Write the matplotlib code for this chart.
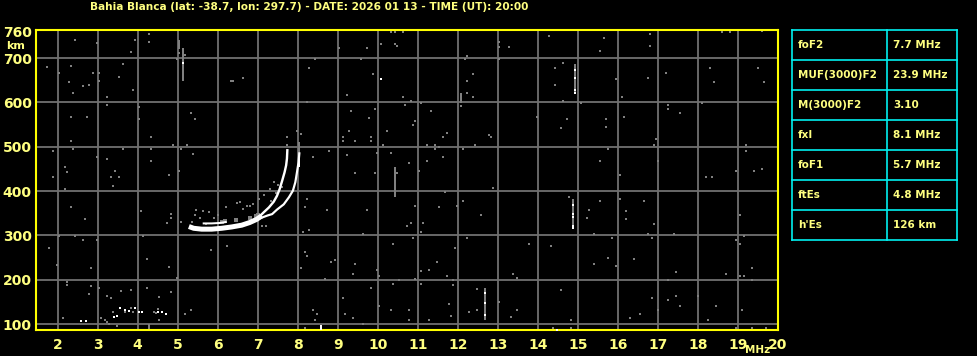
import matplotlib
matplotlib.use("Agg")
import matplotlib.pyplot as plt

# --- header / table text ---
title = "Bahia Blanca (lat: -38.7, lon: 297.7) - DATE: 2026 01 13 - TIME (UT): 20:00"
param_names = ["foF2", "MUF(3000)F2", "M(3000)F2", "fxI", "foF1", "ftEs", "h'Es"]
param_values = ["7.7 MHz", "23.9 MHz", "3.10", "8.1 MHz", "5.7 MHz", "4.8 MHz", "126 km"]

x_ticks = list(range(2, 21))
y_grid = [100, 200, 300, 400, 500, 600, 700]
y_ticks = [100, 200, 300, 400, 500, 600, 700, 760]

# --- F-layer trace (freq MHz, virtual height km) ---
band_f = [5.28, 5.40, 5.60, 5.85, 6.10, 6.35, 6.60, 6.80, 6.97, 7.10]
band_h = [320, 316, 314, 314, 316, 319, 323, 329, 336, 344]
upper_f = [5.65, 5.85, 6.05, 6.20]
upper_h = [327, 327, 328, 330]
o_f = [6.97, 7.15, 7.28, 7.40, 7.48, 7.55, 7.61, 7.67, 7.71, 7.73, 7.74]
o_h = [336, 352, 363, 376, 389, 405, 423, 442, 458, 473, 492]
x_f = [6.90, 7.10, 7.25, 7.36, 7.48, 7.65, 7.78, 7.88, 7.94, 7.98, 8.02, 8.04]
x_h = [333, 340, 345, 348, 358, 370, 386, 401, 420, 442, 465, 485]

# grey echoes around the trace
trace_grey_f = [5.72, 5.47, 5.63, 5.78, 5.43, 5.55, 6.20, 6.48, 6.55, 6.72, 6.88, 7.03,
                7.15, 7.30, 7.40, 7.51, 5.09, 7.10, 7.20, 6.62, 6.80, 7.73, 7.73, 8.03,
                8.08, 7.99, 5.35, 5.90, 6.00, 7.33, 7.45, 7.60]
trace_grey_h = [326, 358, 356, 352, 346, 339, 365, 373, 375, 367, 371, 381,
                390, 405, 420, 413, 330, 322, 322, 360, 366, 522, 504, 507,
                528, 536, 330, 340, 347, 378, 395, 410]
block_f = [6.45, 6.80, 7.01, 6.18, 6.10, 6.95]
block_h = [335, 340, 347, 333, 330, 343]

# --- noise speckles (grey) ---
grey_f = [3.19, 2.44, 2.98, 3.94, 4.29, 4.29, 3.84, 5.03, 5.18, 4.99, 1.74, 2.34, 2.03, 2.89,
          3.03, 3.64, 3.53, 3.03, 2.29, 2.79, 2.64, 2.39, 3.89, 3.24, 3.24, 6.32, 6.37, 6.64,
          8.43, 9.03, 9.73, 9.59, 10.09, 8.29, 9.89, 9.24, 8.24, 9.94, 9.34, 9.79, 2.34, 2.74,
          4.03, 4.03, 5.33, 5.43, 9.29, 9.14, 9.84, 10.24, 9.14, 9.44, 9.84, 2.34, 4.34, 4.89,
          5.24, 2.39, 1.89, 3.64, 4.34, 5.09, 5.39, 8.79, 9.24, 10.14, 10.34, 9.97, 2.98, 3.24,
          4.34, 2.19, 2.24, 3.44, 3.34, 3.53, 4.79, 5.04, 1.89, 8.38, 9.44, 9.94, 10.49,
          3.39, 2.19, 2.34, 2.69, 4.09, 4.84, 4.84, 4.74, 2.03, 2.44, 2.64, 2.98, 1.47, 1.79,
          1.99, 4.14, 4.24, 4.79, 2.84, 2.24, 2.24, 2.84, 3.04, 2.79, 4.99, 5.84, 6.24, 8.23,
          8.18, 8.73, 9.73, 8.13, 8.28, 9.63, 8.18, 8.23, 8.08, 8.83, 8.93, 9.43, 9.38, 9.98,
          10.03, 10.38, 10.53, 8.68, 9.83, 10.38, 9.13,
          2.14, 3.09, 3.19, 3.24, 3.29, 3.39, 3.49, 3.59, 3.24, 3.34, 3.69, 3.84, 3.89, 4.24,
          3.84, 4.54, 4.54, 4.84, 5.34, 5.19, 8.38, 8.48, 8.43, 8.18, 8.68, 8.78, 9.18, 9.38,
          9.63, 10.03, 10.33, 4.51, 4.46, 4.41,
          10.34, 10.44, 10.64, 10.44, 10.49, 12.74, 13.04, 13.04, 13.29, 14.29, 15.64, 15.54,
          16.79, 16.79, 18.59, 18.79, 19.59, 12.19, 12.24, 13.04, 14.64, 14.44, 14.44, 15.94,
          16.74, 17.19, 18.29, 18.39, 19.49, 19.64, 12.39, 12.24, 12.24, 12.39, 10.64, 12.09,
          10.69, 10.84, 11.09, 11.34, 10.94, 10.89, 14.64, 15.09, 16.09, 17.24, 17.24, 17.54,
          18.09, 13.99, 14.74, 14.59, 15.69, 15.69, 16.14, 11.74, 11.64, 12.79, 12.84, 12.44,
          11.24, 11.44, 11.54, 11.44, 12.14, 11.64, 11.24, 10.79, 11.04, 16.94, 16.89, 15.74,
          15.54, 16.04, 16.99, 19.19, 19.19, 18.94, 19.39, 19.59, 18.19, 18.34,
          11.69, 12.89, 10.94, 11.54, 11.99, 12.14, 12.59, 10.84, 11.14, 10.74, 11.09, 10.89,
          12.24, 14.79, 15.54, 15.29, 15.24, 16.04, 16.64, 16.19, 16.19, 16.89, 16.74, 16.84,
          17.39, 15.39, 15.84, 19.04, 19.14, 18.94, 19.04, 11.94, 11.49, 11.29, 11.09, 11.74,
          11.89, 11.89, 10.94, 11.09, 13.79, 14.34, 13.39, 13.49, 15.74, 15.39, 15.94, 16.39,
          17.44, 17.24, 18.69, 19.04, 19.14, 19.34, 19.34, 14.59, 12.49, 11.79, 12.29, 12.49,
          11.84, 13.04, 10.79, 10.79, 11.29, 13.34, 13.49, 14.84, 14.84, 14.39, 14.29, 13.34,
          15.74, 16.29, 16.54, 16.84, 17.24, 17.44, 17.54, 16.99, 17.99, 18.44, 18.24, 19.09,
          18.94, 19.34, 19.69, 17.04]
grey_h = [763, 740, 733, 740, 754, 736, 713, 712, 708, 698, 680, 683, 667, 667,
          667, 686, 658, 649, 645, 640, 636, 622, 627, 613, 595, 649, 649, 656,
          698, 722, 722, 698, 731, 677, 663, 617, 602, 586, 581, 565, 567, 567,
          590, 563, 577, 563, 536, 522, 522, 536, 513, 513, 513, 513, 522, 504,
          505, 495, 490, 495, 495, 495, 483, 490, 481, 504, 486, 486, 477, 472,
          467, 454, 442, 445, 431, 431, 436, 445, 431, 477, 440, 440, 440,
          411, 404, 363, 336, 356, 349, 340, 327, 299, 299, 290, 290, 269, 272,
          234, 299, 247, 229, 227, 195, 189, 186, 181, 167, 204, 267, 277, 381,
          363, 358, 358, 308, 313, 304, 263, 254, 227, 240, 245, 236, 213, 223,
          208, 281, 199, 202, 181, 190, 158,
          113, 113, 108, 104, 99, 127, 95, 174, 163, 158, 127, 137, 127, 181,
          176, 160, 110, 172, 131, 122, 131, 122, 108, 90, 86, 86, 122, 113,
          99, 140, 131, 133, 124, 128,
          758, 758, 758, 731, 727, 763, 736, 726, 726, 749, 745, 717,
          754, 727, 758, 758, 761, 698, 704, 698, 690, 677, 640, 652,
          654, 667, 677, 645, 677, 645, 663, 649, 622, 613, 613, 592,
          595, 604, 599, 581, 558, 549, 604, 599, 613, 595, 586, 577,
          599, 567, 563, 542, 563, 545, 567, 531, 522, 527, 522, 505,
          504, 504, 499, 495, 495, 477, 467, 463, 445, 517, 504, 495,
          467, 436, 467, 504, 490, 445, 445, 449, 431, 431,
          398, 408, 367, 363, 367, 377, 345, 327, 327, 322, 308, 295,
          295, 386, 377, 358, 340, 381, 377, 354, 336, 325, 304, 295,
          304, 304, 295, 345, 299, 290, 281, 272, 240, 222, 220, 208,
          199, 187, 201, 190, 281, 277, 213, 204, 249, 236, 231, 246,
          217, 199, 213, 208, 208, 227, 199, 177, 178, 146, 127, 131,
          117, 149, 131, 108, 108, 115, 131, 108, 90, 90, 86, 86,
          86, 113, 122, 158, 154, 163, 140, 131, 164, 140, 108, 131,
          90, 90, 90, 86]

# white single echoes
white_f = [2.59, 2.72, 3.42, 3.49, 3.57, 3.69, 3.79, 3.94, 4.04, 4.12, 4.50, 4.62, 4.71,
           10.09, 5.14, 14.94, 14.94, 14.94, 14.94, 14.89, 14.89, 14.89, 14.89, 14.89,
           12.69, 12.69, 12.69, 14.49]
white_h = [107, 107, 116, 117, 137, 132, 130, 136, 128, 128, 128, 127, 122,
           652, 690, 674, 655, 629, 621, 369, 348, 341, 322, 316,
           170, 148, 121, 86]

# vertical grey streaks: freq, bottom, top
streak_f = [5.14, 5.03, 10.44, 14.94, 14.89, 12.69, 4.29, 12.09, 8.03]
streak_lo = [648, 720, 386, 621, 314, 110, 87, 599, 455]
streak_hi = [723, 740, 455, 686, 383, 182, 100, 621, 510]
white_streak_f = [8.58, 8.03]
white_streak_lo = [87, 455]
white_streak_hi = [98, 480]

YEL = "#ffff80"
FRAME = "#ffff00"
GRID = "#707070"
GREY = "#808080"
CYAN = "#00f0f0"

W, H = 978, 356
fig = plt.figure(figsize=(W / 100, H / 100), dpi=100)
fig.patch.set_facecolor("black")

ax = fig.add_axes([36 / W, (H - 330) / H, (778 - 36) / W, (330 - 29.5) / H])
ax.set_facecolor("black")
ax.set_xlim(1.46, 20.0)
ax.set_ylim(86.5, 764.5)

for f in x_ticks[:-1]:
    ax.axvline(f, color=GRID, lw=1.3, zorder=1)
for h in y_grid:
    ax.axhline(h, color=GRID, lw=1.3, zorder=1)

px = 72 / 100
ax.scatter(grey_f, grey_h, s=(2 * px) ** 2 * 1.2, marker="s", color=GREY, lw=0, zorder=2)
ax.scatter(trace_grey_f, trace_grey_h, s=(2 * px) ** 2 * 1.3, marker="s", color=GREY, lw=0, zorder=2)
ax.scatter(block_f, block_h, s=(5 * px) ** 2, marker="s", color=GREY, lw=0, zorder=2)
ax.vlines(streak_f, streak_lo, streak_hi, color=GREY, lw=2 * px, zorder=2)
ax.vlines(white_streak_f, white_streak_lo, white_streak_hi, color="white", lw=2 * px, zorder=3)

ax.plot(band_f, band_h, color="white", lw=5 * px, solid_capstyle="butt", zorder=4)
ax.plot(upper_f, upper_h, color="white", lw=2 * px, zorder=4)
ax.plot(o_f, o_h, color="white", lw=2.4 * px, zorder=4)
ax.plot(x_f, x_h, color="white", lw=2.2 * px, zorder=4)
ax.scatter(white_f, white_h, s=(2.5 * px) ** 2, marker="s", color="white", lw=0, zorder=4)

for sp in ax.spines.values():
    sp.set_color(FRAME)
    sp.set_linewidth(1.5)

ax.set_xticks(x_ticks)
ax.set_xticklabels([str(t) for t in x_ticks])
ax.set_yticks(y_ticks)
ax.set_yticklabels([str(t) for t in y_ticks])
ax.tick_params(length=0, colors=YEL, labelsize=10)
ax.tick_params(axis="x", pad=6)
ax.tick_params(axis="y", pad=3)
for lab in ax.get_xticklabels() + ax.get_yticklabels():
    lab.set_fontweight("bold")

# overlay in pixel coordinates for the title, units and table
ov = fig.add_axes([0, 0, 1, 1])
ov.set_xlim(0, W)
ov.set_ylim(H, 0)
ov.axis("off")

ov.text(90, 7, title, color=YEL, fontsize=7.6, fontweight="bold", ha="left", va="center")
ov.text(6, 46, "km", color=YEL, fontsize=8, fontweight="bold", ha="left", va="center")
ov.text(758, 350, "MHz", color=YEL, fontsize=7.5, fontweight="bold", ha="center", va="center")

t_left, t_mid, t_right, t_top, row_h = 792, 887, 957, 30, 30
n = len(param_names)
for i in range(n + 1):
    ov.plot([t_left, t_right], [t_top + i * row_h] * 2, color=CYAN, lw=1.2)
for xx in (t_left, t_mid, t_right):
    ov.plot([xx, xx], [t_top, t_top + n * row_h], color=CYAN, lw=1.2)
for i, (name, val) in enumerate(zip(param_names, param_values)):
    yc = t_top + (i + 0.5) * row_h
    ov.text(798, yc, name, color=YEL, fontsize=7.5, fontweight="bold", ha="left", va="center")
    ov.text(893, yc, val, color=YEL, fontsize=7.5, fontweight="bold", ha="left", va="center")

fig.savefig("out.png", dpi=100, facecolor="black")
